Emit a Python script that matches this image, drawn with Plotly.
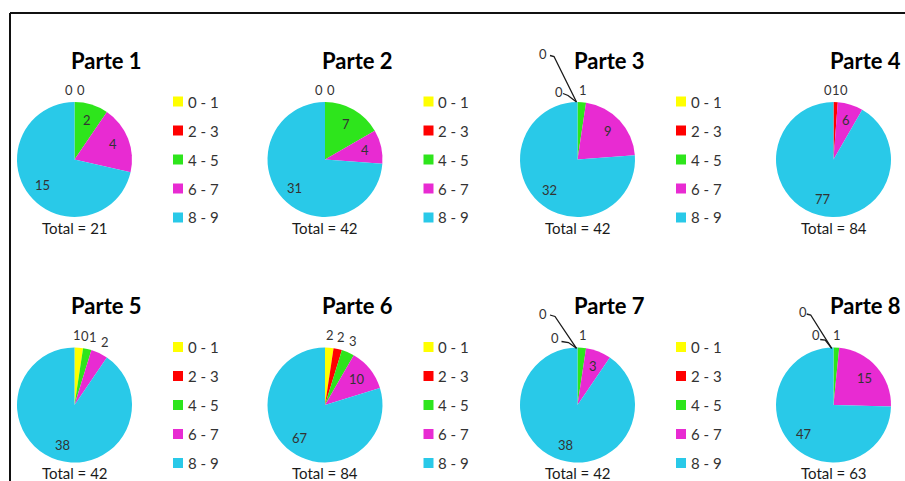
import math
import plotly.graph_objects as go

# ---- data -------------------------------------------------------------
CATEGORIES = ["0 - 1", "2 - 3", "4 - 5", "6 - 7", "8 - 9"]
PART_NAMES = ["Parte 1", "Parte 2", "Parte 3", "Parte 4",
              "Parte 5", "Parte 6", "Parte 7", "Parte 8"]
PARTE_1 = [0, 0, 2, 4, 15]
PARTE_2 = [0, 0, 7, 4, 31]
PARTE_3 = [0, 0, 1, 9, 32]
PARTE_4 = [0, 1, 0, 6, 77]
PARTE_5 = [1, 0, 1, 2, 38]
PARTE_6 = [2, 2, 3, 10, 67]
PARTE_7 = [0, 0, 1, 3, 38]
PARTE_8 = [0, 0, 1, 15, 47]
PARTS = [PARTE_1, PARTE_2, PARTE_3, PARTE_4, PARTE_5, PARTE_6, PARTE_7, PARTE_8]

# ---- styling / layout -------------------------------------------------
W, H = 905, 481
COLORS = ["#FFFF00", "#FF0000", "#2EE51C", "#E82BD2", "#29C9E8"]
FONT = "Lato"
COL_CX = [74.5, 325, 577.5, 833.5]
ROW_CY = [159.5, 405]
R = 57.5
INSIDE_K = 0.72          # inside labels at this fraction of the radius
OUTSIDE_R = R + 12.5     # outside labels radius
MIN_GAP = 9.5            # labels closer than this are treated as crowded
OUTSIDE_DEG = 20         # slices narrower than this get outside labels
LABEL_SIZE = 13

# callout labels (label offset, leader polyline) relative to the pie top
CALLOUTS = {
    2: {0: ((-35, -47.5), [(-27.5, -46.5), (-23.5, -45.5), (-1, 0)]),
        1: ((-18.5, -10), [(-14.5, -8.5), (-9.5, -6.5), (-1, 0)])},
    6: {0: ((-34.5, -33.5), [(-27.5, -32.5), (-22.5, -31), (-1, 0.8)]),
        1: ((-22.5, -10), [(-16, -6), (-9, -5), (-1, 0.8)])},
    7: {0: ((-30.8, -35.8), [(-26.8, -33.5), (-22.8, -32.5), (-1.8, 0.8)]),
        1: ((-17.3, -12.5), [(-13.3, -8), (-8.3, -7.5), (-1.8, 0.8)])},
}


def px(x):
    return x / W


def py(y):
    return 1 - y / H


fig = go.Figure()
annotations = []
shapes = []


def text(x, y, s, size, color="#333333", bold=False, anchor="center"):
    annotations.append(dict(
        x=px(x), y=py(y), xref="paper", yref="paper", showarrow=False,
        text=f"<b>{s}</b>" if bold else s, xanchor=anchor, yanchor="middle",
        font=dict(family=FONT, size=size, color=color)))


for i, (name, vals) in enumerate(zip(PART_NAMES, PARTS)):
    cx, cy = COL_CX[i % 4], ROW_CY[i // 4]
    total = sum(vals)

    fig.add_trace(go.Pie(
        values=vals, labels=CATEGORIES, sort=False, direction="clockwise",
        rotation=0, textinfo="none", showlegend=False, hole=0,
        marker=dict(colors=COLORS, line=dict(width=0)),
        domain=dict(x=[px(cx - R), px(cx + R)], y=[py(cy + R), py(cy - R)]),
        name=name))

    # title and total
    text(cx + 32, cy - 99.5, name, 22, color="#000000", bold=True)
    text(cx, cy + R + 10.5, f"Total = {total}", 15, color="#1a1a1a")

    # legend (only where it fits inside the page)
    if cx + 140 <= W:
        for j, cat in enumerate(CATEGORIES):
            ly = cy + (j - 2) * 29
            shapes.append(dict(type="rect", xref="paper", yref="paper",
                               x0=px(cx + 98.5), x1=px(cx + 108.5),
                               y0=py(ly + 5), y1=py(ly - 5),
                               fillcolor=COLORS[j], line=dict(width=0)))
            text(cx + 111, ly, cat, 15, color="#333333", anchor="left")

    # data labels
    acc = 0
    outside = []
    callouts = CALLOUTS.get(i, {})
    for j, v in enumerate(vals):
        a0 = acc / total * 360
        acc += v
        a1 = acc / total * 360
        mid = math.radians((a0 + a1) / 2)
        if j in callouts:
            (ox, oy), pts = callouts[j]
            tx, ty = cx, cy - R
            text(tx + ox, ty + oy, str(v), LABEL_SIZE)
            path = "M " + " L ".join(
                f"{px(tx + dx)},{py(ty + dy)}" for dx, dy in pts)
            shapes.append(dict(type="path", xref="paper", yref="paper",
                               path=path, line=dict(color="#1a1a1a", width=1.3)))
        elif a1 - a0 < OUTSIDE_DEG:
            outside.append([cx + OUTSIDE_R * math.sin(mid),
                            cy - OUTSIDE_R * math.cos(mid), str(v)])
        else:
            k = INSIDE_K * R
            text(cx + k * math.sin(mid), cy - k * math.cos(mid), str(v), LABEL_SIZE)

    # spread crowded outside labels horizontally
    groups = []
    for lab in outside:
        if groups and lab[0] - groups[-1][-1][0] < MIN_GAP:
            groups[-1].append(lab)
        else:
            groups.append([lab])
    for g in groups:
        m = sum(l[0] for l in g) / len(g)
        step = max(7.5, 24 / len(g))
        for n, lab in enumerate(g):
            lab[0] = m + (n - (len(g) - 1) / 2) * step
            text(lab[0], lab[1], lab[2], LABEL_SIZE)

# frame lines
shapes.append(dict(type="line", xref="paper", yref="paper",
                   x0=px(10), x1=px(905), y0=py(13), y1=py(13),
                   line=dict(color="#111111", width=2)))
shapes.append(dict(type="line", xref="paper", yref="paper",
                   x0=px(10), x1=px(10), y0=py(13), y1=py(481),
                   line=dict(color="#111111", width=2)))

fig.update_layout(
    width=W, height=H, margin=dict(l=0, r=0, t=0, b=0),
    paper_bgcolor="white", plot_bgcolor="white",
    annotations=annotations, shapes=shapes, showlegend=False)

fig.write_html("out.html")
